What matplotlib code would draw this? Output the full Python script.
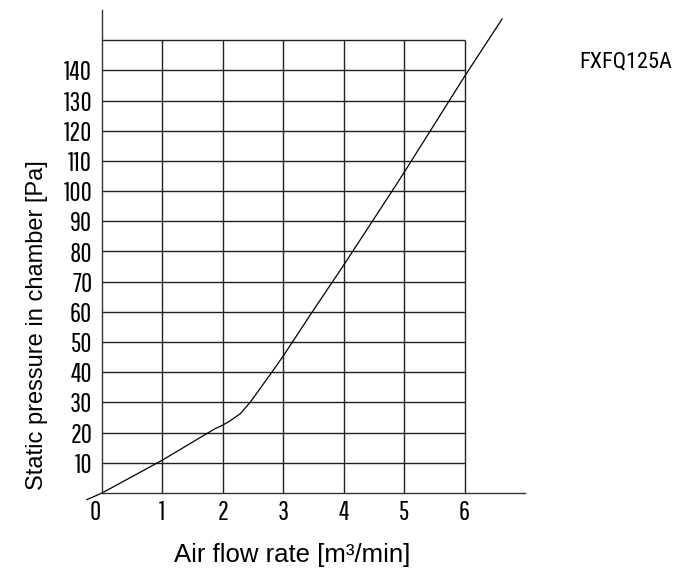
import matplotlib
matplotlib.use("Agg")
import matplotlib.pyplot as plt
import matplotlib.transforms as mtransforms

# ---- data ----
flow = [-0.25, 0, 1, 1.87, 2, 2.12, 2.29, 2.45, 2.81, 3, 3.48, 4, 4.8, 5, 6, 6.62]
pressure = [-2.2, 0, 10.9, 21.3, 22.5, 23.9, 26.3, 30, 40, 45.4, 60, 75.5, 100, 106.2, 138, 157]
x_ticks = [0, 1, 2, 3, 4, 5, 6]
y_ticks = [10, 20, 30, 40, 50, 60, 70, 80, 90, 100, 110, 120, 130, 140]
grid_x = [1, 2, 3, 4, 5, 6]
grid_y = [10, 20, 30, 40, 50, 60, 70, 80, 90, 100, 110, 120, 130, 140, 150]
model = "FXFQ125A"
xlabel = "Air flow rate [m³/min]"
ylabel = "Static pressure in chamber [Pa]"

tick_font = ["Pathway Gothic One", "Saira ExtraCondensed", "DejaVu Sans"]
model_font = ["Roboto Condensed", "DejaVu Sans"]
label_font = ["Liberation Sans", "DejaVu Sans"]

W, H = 687, 572
fig = plt.figure(figsize=(W / 100, H / 100), dpi=100)
ax = fig.add_axes([102 / W, (H - 493) / H, 423 / W, 483 / H])
ax.set_xlim(0, 7)
ax.set_ylim(0, 160)
for s in ("top", "right"):
    ax.spines[s].set_visible(False)
for s in ("left", "bottom"):
    ax.spines[s].set_linewidth(1.0)
    ax.spines[s].set_color("#333333")

ax.hlines(grid_y, 0, max(grid_x), colors="#222222", linewidth=1.0)
ax.vlines(grid_x, 0, max(grid_y), colors="#222222", linewidth=1.0)

ax.plot(flow, pressure, color="black", linewidth=0.9, clip_on=False)

ax.set_yticks(y_ticks)
ax.set_yticklabels([str(v) for v in y_ticks], fontfamily=tick_font, fontsize=19.5)
ax.set_xticks(x_ticks)
ax.set_xticklabels([str(v) for v in x_ticks], fontfamily=tick_font, fontsize=19.5)
ax.tick_params(axis="both", length=0)
ax.tick_params(axis="y", pad=7)
ax.tick_params(axis="x", pad=5)
# the "0" label sits a little left of the origin
zero = ax.get_xticklabels()[0]
zero.set_transform(zero.get_transform() + mtransforms.ScaledTranslation(-7 / 100, 0, fig.dpi_scale_trans))

fig.text(292 / W, 1 - 555 / H, xlabel, ha="center", va="center",
         fontfamily=label_font, fontsize=18.5)
fig.text(37 / W, 1 - 325 / H, ylabel, ha="center", va="center", rotation=90,
         fontfamily=label_font, fontsize=17)
fig.text(626 / W, 1 - 62 / H, model, ha="center", va="center",
         fontfamily=model_font, fontsize=16)

fig.savefig("out.png", dpi=100)
